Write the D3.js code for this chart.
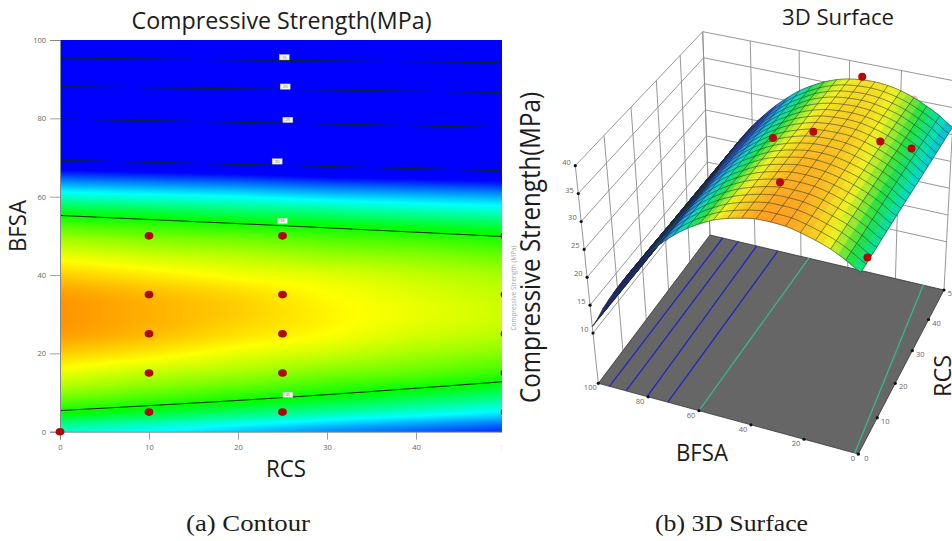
<!DOCTYPE html>
<html><head><meta charset="utf-8">
<script src="https://cdn.jsdelivr.net/npm/d3@7"></script>
<style>html,body{margin:0;padding:0;background:#fff;overflow:hidden}svg{display:block}
text{font-family:"Open Sans",sans-serif}</style></head>
<body><svg id="c" width="952" height="541" viewBox="0 0 952 541"></svg>
<script>
// ---------- data ----------
const rcsGrid = [0,10,20,30,40,50];
const bfsaGrid = [0,5,10,15,20,25,30,35,40,45,50,55,60,65,70,75,80,85,90,95,100];
const strengthRcs0  = [33.5,35.0,36.3,37.2,37.9,38.4,38.5,38.4,37.9,37.2,36.3,35.0,33.5,31.7,29.6,27.2,24.6,21.6,18.4,14.9,11.2];
const strengthRcs10 = [33.1,34.6,35.9,36.8,37.6,38.1,38.2,38.1,37.6,36.9,36.0,34.8,33.3,31.5,29.4,27.0,24.4,21.5,18.3,14.8,11.1];
const strengthRcs20 = [32.7,34.2,35.5,36.5,37.2,37.7,37.9,37.8,37.3,36.7,35.8,34.5,33.1,31.3,29.2,26.8,24.3,21.3,18.2,14.7,11.0];
const strengthRcs30 = [32.2,33.8,35.1,36.1,36.9,37.4,37.5,37.4,37.1,36.4,35.5,34.3,32.8,31.0,29.0,26.7,24.1,21.2,18.0,14.6,10.9];
const strengthRcs40 = [31.8,33.4,34.7,35.8,36.5,37.0,37.2,37.1,36.8,36.2,35.3,34.0,32.6,30.8,28.8,26.5,24.0,21.0,17.9,14.5,10.8];
const strengthRcs50 = [31.4,33.0,34.3,35.4,36.2,36.7,36.9,36.8,36.5,35.9,35.0,33.8,32.4,30.6,28.6,26.3,23.8,20.9,17.8,14.4,10.7];
const strengthColumns = [strengthRcs0,strengthRcs10,strengthRcs20,strengthRcs30,strengthRcs40,strengthRcs50];

// contour lines on the 2D plot: BFSA at RCS 0, 25, 50
const contourRcs = [0,25,50];
const contour15 = [95.4,94.8,94.2];
const contour20 = [88.1,87.4,86.6];
const contour25 = [79.8,78.8,77.6];
const contour30 = [69.3,68.0,66.6];
const contour35Upper = [55.2,52.6,49.8];
const contour35Lower = [5.4,8.7,12.8];
const contourLines = [contour15,contour20,contour25,contour30,contour35Upper,contour35Lower];
// contour label: text, RCS, BFSA
const contourLabelText = ["15","20","25","30","35","35"];
const contourLabelRcs  = [25.2,25.3,25.6,24.4,25.0,25.6];
const contourLabelBfsa = [95.6,88.1,79.6,69.0,53.8,9.4];

// design points on 2D plot
const pointRcs  = [0,10,10,10,10,10,25,25,25,25,25,50,50,50,50,50];
const pointBfsa = [0,5,15,25,35,50,5,15,25,35,50,5,15,25,35,50];

// contour lines on the 3D floor: BFSA at RCS 0 and 50
const floorBlueStart = [95.5,88.8,80.4,72.2];
const floorBlueEnd   = [94.3,87.5,79.3,70.0];
const floorTealStart = [60.0,1.3];
const floorTealEnd   = [56.6,8.5];

// 3D points: BFSA, RCS, strength
const surfPointBfsa = [35,50,35,35,15,5,0];
const surfPointRcs  = [50,25,25,10,31,33,3];
const surfPointZ    = [37.4,37.0,39.8,39.0,37.0,35.7,34.2];
const hiddenPointBfsa = [15,5];
const hiddenPointRcs  = [50,50];
const hiddenPointZ    = [35.0,32.0];

const xTicks2D = [0,10,20,30,40,50];
const yTicks2D = [0,20,40,60,80,100];
const zTicks3D = [10,15,20,25,30,35,40];
const bfsaTicks3D = [0,20,40,60,80,100];
const rcsTicks3D = [0,10,20,30,40,50];

// ---------- helpers ----------
const svg = d3.select("#c");
const defs = svg.append("defs");

function catmull(p0,p1,p2,p3,t){
  return 0.5*((2*p1)+(-p0+p2)*t+(2*p0-5*p1+4*p2-p3)*t*t+(-p0+3*p1-3*p2+p3)*t*t*t);
}
function field(r,b){
  const cf = Math.min(rcsGrid.length-1.0001,Math.max(0,r/10)), ci=Math.floor(cf), ct=cf-ci;
  const rf = Math.min(bfsaGrid.length-1.0001,Math.max(0,b/5)), ri=Math.floor(rf), rt=rf-ri;
  const along = col=>{
    const a=col[Math.max(0,ri-1)], B=col[ri], c=col[ri+1], d=col[Math.min(col.length-1,ri+2)];
    return catmull(a,B,c,d,rt);
  };
  return along(strengthColumns[ci])*(1-ct)+along(strengthColumns[ci+1])*ct;
}

// ---------- left panel ----------
const x2 = d3.scaleLinear().domain([0,50]).range([60,505]);
const y2 = d3.scaleLinear().domain([0,100]).range([431.7,40]);
const heat = d3.scaleLinear().domain([31,33.1,34.9,37.4,40])
  .range(["#0000ff","#00ffff","#00ff00","#ffff00","#ff0000"]).clamp(true);

defs.append("clipPath").attr("id","clipPlot").append("rect")
  .attr("x",0).attr("y",0).attr("width",502).attr("height",541);

const pw = 442, ph = Math.round(y2(0)-y2(100));
const canvas = document.createElement("canvas"); canvas.width=pw; canvas.height=ph;
const ctx = canvas.getContext("2d"); const im = ctx.createImageData(pw,ph);
for(let j=0;j<ph;j++) for(let i=0;i<pw;i++){
  const v=field(x2.invert(60+i+.5), y2.invert(40+j+.5));
  const c=d3.rgb(heat(v)); const o=(j*pw+i)*4;
  im.data[o]=c.r; im.data[o+1]=c.g; im.data[o+2]=c.b; im.data[o+3]=255;
}
ctx.putImageData(im,0,0);
const left = svg.append("g").attr("clip-path","url(#clipPlot)");
left.append("image").attr("x",60).attr("y",40).attr("width",pw).attr("height",ph)
  .attr("href",canvas.toDataURL());

const contourLine = d3.line().x((d,i)=>x2(contourRcs[i])).y(d=>y2(d)).curve(d3.curveBasis);
const contourLine2 = d3.line().x((d,i)=>x2(contourRcs[i])).y(d=>y2(d)).curve(d3.curveMonotoneX);
left.selectAll("path.contour").data(contourLines).enter().append("path").attr("class","contour")
  .attr("d",contourLine2).attr("fill","none").attr("stroke","#0a2a10").attr("stroke-width",1);

const lab = left.selectAll("g.lab").data(contourLabelText).enter().append("g").attr("class","lab")
  .attr("transform",(d,i)=>`translate(${x2(contourLabelRcs[i])},${y2(contourLabelBfsa[i])})`);
lab.append("rect").attr("x",-5).attr("y",-2.7).attr("width",10).attr("height",5.4).attr("fill","#f4f4f4").attr("stroke","#bbb").attr("stroke-width",.4);
lab.append("text").attr("text-anchor","middle").attr("y",1.5).attr("font-size",4).attr("fill","#777").text(d=>d);

const xAxis = d3.axisBottom(x2).tickValues(xTicks2D).tickSize(8).tickPadding(5);
const yAxis = d3.axisLeft(y2).tickValues(yTicks2D).tickSize(10).tickPadding(4);
const gx = left.append("g").attr("transform","translate(0,431.7)").call(xAxis);
const gy = left.append("g").attr("transform","translate(60,0)").call(yAxis);
[gx,gy].forEach(g=>{
  g.selectAll("text").attr("font-size",7.5).attr("fill","#666").attr("font-family","Open Sans");
  g.selectAll("line").attr("stroke","#888").attr("stroke-width",.8);
  g.select(".domain").attr("stroke","#7d8a94").attr("stroke-width",1);
});
left.selectAll("ellipse.pt").data(pointRcs).enter().append("ellipse").attr("class","pt")
  .attr("cx",d=>x2(d)).attr("cy",(d,i)=>y2(pointBfsa[i])).attr("rx",4.4).attr("ry",3.8).attr("fill","#b00808");

// ---------- right panel: projective mapping of the box ----------
function quadMap(p0,p1,p2,p3){
  const dx1=p1[0]-p2[0],dx2=p3[0]-p2[0],sx=p0[0]-p1[0]+p2[0]-p3[0];
  const dy1=p1[1]-p2[1],dy2=p3[1]-p2[1],sy=p0[1]-p1[1]+p2[1]-p3[1];
  const den=dx1*dy2-dx2*dy1;
  const g=(sx*dy2-dx2*sy)/den,h=(dx1*sy-sx*dy1)/den;
  const a=p1[0]-p0[0]+g*p1[0],b=p3[0]-p0[0]+h*p3[0],c=p0[0];
  const d=p1[1]-p0[1]+g*p1[1],e=p3[1]-p0[1]+h*p3[1],f=p0[1];
  return (u,v)=>{const w=g*u+h*v+1;return [(a*u+b*v+c)/w,(d*u+e*v+f)/w];};
}
const floorMap = quadMap([858.3,454],[598.3,383.3],[710,235],[944,290]);
const topMap   = quadMap([861.5,236],[575.3,165.7],[702.7,31.7],[955,81]);
const uS = d3.scaleLinear().domain([0,100]).range([0,1]);
const vS = d3.scaleLinear().domain([0,50]).range([0,1]);
const zS = d3.scaleLinear().domain([1,40]).range([0,1]);
function P(b,r,z){
  const A=floorMap(uS(b),vS(r)),B=topMap(uS(b),vS(r)),t=zS(z);
  return [A[0]+(B[0]-A[0])*t,A[1]+(B[1]-A[1])*t];
}
const lineP = d3.line();
const right = svg.append("g");
const wall = right.append("g").attr("fill","none").attr("stroke","#8c8c8c").attr("stroke-width",.9);
const Z0=1, Z1=40;
// walls
zTicks3D.forEach(z=>{
  wall.append("path").attr("d",lineP([P(100,0,z),P(100,50,z),P(0,50,z)]));
});
rcsTicks3D.forEach(r=>wall.append("path").attr("d",lineP([P(100,r,Z0),P(100,r,Z1)])));
bfsaTicks3D.forEach(b=>wall.append("path").attr("d",lineP([P(b,50,Z0),P(b,50,Z1)])));
// floor
right.append("path").attr("d",lineP([P(0,0,Z0),P(100,0,Z0),P(100,50,Z0),P(0,50,Z0)])+"Z")
  .attr("fill","#666666").attr("stroke","#333").attr("stroke-width",.8);
const floorLines = right.append("g").attr("fill","none").attr("stroke-width",1.3);
floorBlueStart.forEach((s,i)=>floorLines.append("path").attr("stroke","#2424c4")
  .attr("d",lineP([P(s,0,Z0),P(floorBlueEnd[i],50,Z0)])));
floorTealStart.forEach((s,i)=>floorLines.append("path").attr("stroke","#35b894")
  .attr("d",lineP([P(s,0,Z0),P(floorTealEnd[i],50,Z0)])));
// hidden points behind the surface
right.selectAll("circle.hid").data(hiddenPointBfsa).enter().append("circle").attr("class","hid")
  .attr("cx",(d,i)=>P(d,hiddenPointRcs[i],hiddenPointZ[i])[0])
  .attr("cy",(d,i)=>P(d,hiddenPointRcs[i],hiddenPointZ[i])[1])
  .attr("r",3.8).attr("fill","#f3dbe4").attr("stroke","#d590a8").attr("stroke-width",.7);

// surface
const surfColor = d3.scaleLinear()
  .domain([10,24,28.5,30.8,32.6,34.6,36.5,38.6,40])
  .range(["#161d6e","#2b35b4","#2a4fd0","#1c9ee0","#00dcc0","#22e040","#f0f020","#ff9a20","#ff5010"]).clamp(true);
const surf = right.append("g");
const sub=2, db=5/sub, dr=2.5/sub, facets=[];
for(let r=50-dr;r>=-1e-6;r-=dr) for(let b=100-db;b>=-1e-6;b-=db) facets.push([b,r]);
surf.selectAll("path.f").data(facets).enter().append("path").attr("class","f")
  .attr("d",([b,r])=>{
    const q=[[b,r],[b+db,r],[b+db,r+dr],[b,r+dr]].map(([B,R])=>P(B,R,field(R,B)));
    return lineP(q)+"Z";
  })
  .each(function([b,r]){const c=surfColor(field(r+dr/2,b+db/2));
    d3.select(this).attr("fill",c).attr("stroke",c).attr("stroke-width",.5);});
const mesh = right.append("g").attr("fill","none").attr("stroke","#1a2a20").attr("stroke-width",.65).attr("stroke-opacity",.8);
const bfsaMesh = d3.range(0,100.01,5), rcsMesh = d3.range(0,50.01,2.5);
bfsaMesh.forEach(b=>mesh.append("path").attr("d",lineP(d3.range(0,50.01,1.25).map(r=>P(b,r,field(r,b))))));
rcsMesh.forEach(r=>mesh.append("path").attr("d",lineP(d3.range(0,100.01,1.25).map(b=>P(b,r,field(r,b))))));

// points on the surface
right.selectAll("circle.pt3").data(surfPointBfsa).enter().append("circle").attr("class","pt3")
  .attr("cx",(d,i)=>P(d,surfPointRcs[i],surfPointZ[i])[0])
  .attr("cy",(d,i)=>P(d,surfPointRcs[i],surfPointZ[i])[1])
  .attr("r",4).attr("fill","#b80808");

// ticks and tick labels of the box
const tk = right.append("g").attr("fill","#111");
const tl = right.append("g").attr("font-size",7.5).attr("fill","#666");
zTicks3D.forEach(z=>{const p=P(100,0,z);
  tk.append("circle").attr("cx",p[0]).attr("cy",p[1]).attr("r",1.6);
  tl.append("text").attr("x",p[0]-4.5).attr("y",p[1]-1).attr("text-anchor","end").text(z);});
bfsaTicks3D.forEach(b=>{const p=P(b,0,Z0);
  tk.append("circle").attr("cx",p[0]).attr("cy",p[1]).attr("r",1.6);
  tl.append("text").attr("x",p[0]-(b===0?5.5:8)).attr("y",p[1]+7).attr("text-anchor","middle").text(b);});
rcsTicks3D.forEach(r=>{const p=P(0,r,Z0);
  tk.append("circle").attr("cx",p[0]).attr("cy",p[1]).attr("r",1.6);
  tl.append("text").attr("x",p[0]+8).attr("y",p[1]+(r===0?7:6)).attr("text-anchor","middle").text(r);});

// ---------- titles ----------
function label(txt,x,y,size,len,opts={}){
  const t=svg.append("text").attr("x",x).attr("y",y).attr("text-anchor","middle").attr("font-size",size)
    .attr("fill",opts.fill||"#1c1c1c").attr("textLength",len).attr("lengthAdjust","spacingAndGlyphs").text(txt);
  if(opts.serif) t.style("font-family","'Liberation Serif',serif");
  if(opts.rot) t.attr("transform",`rotate(-90 ${x} ${y})`);
  return t;
}
label("Compressive Strength(MPa)",281.5,29,24,300);
label("BFSA",26,226,24,52,{rot:true});
label("RCS",286,477,24,40);
label("3D Surface",838,25,22,112);
label("Compressive Strength(MPa)",540,247.5,27,311,{rot:true});
label("BFSA",702,461,24,52);
label("RCS",951,376,24,42,{rot:true});
label("Compressive Strength (MPa)",516,288,6.5,85,{rot:true,fill:"#aaa"});
label("(a) Contour",248,531,24,124,{serif:true});
label("(b) 3D Surface",731.5,531,24,153,{serif:true});
</script></body></html>
